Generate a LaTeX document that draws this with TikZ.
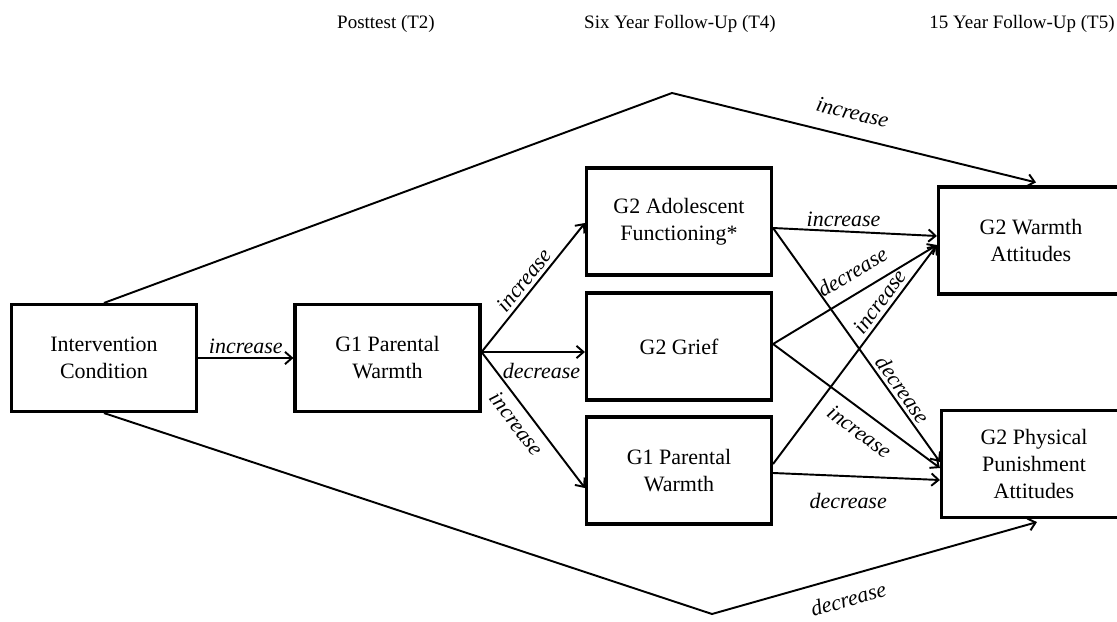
\documentclass[tikz,border=0pt]{standalone}
\usepackage{fontspec}
\setmainfont{Liberation Serif}
\usetikzlibrary{arrows.meta, calc}

\begin{document}
\begin{tikzpicture}[x=0.02cm, y=-0.02cm,
  box/.style={draw, line width=1.8pt, minimum width=3.7cm, minimum height=2.14cm,
    align=center, inner sep=2pt, font=\fontsize{12.5}{15.4}\selectfont},
  lnk/.style={line width=1.1pt, -{Straight Barb[length=4pt,width=7pt]}},
  lbl/.style={font=\fontsize{12.5}{15}\selectfont\itshape, inner sep=2pt},
  hdr/.style={font=\fontsize{10.8}{12}\selectfont}]
\useasboundingbox (0,0) rectangle (1117,622);
\clip (0,0) rectangle (1117,622);

\node[hdr] (t2) at (386,24) {Posttest (T2)};
\node[hdr] (t4) at (680,24) {Six Year Follow-Up (T4)};
\node[hdr] (t5) at (1022,24) {15 Year Follow-Up (T5)};

\node[box] (ic) at (104,358) {Intervention\\Condition};
\node[box] (gpw) at (387.5,358) {G1 Parental\\Warmth};
\node[box] (ado) at (679,221.5) {G2 Adolescent\\Functioning*};
\node[box] (grief) at (679,346.5) {G2 Grief};
\node[box] (gpwb) at (679,470.5) {G1 Parental\\Warmth};
\node[box] (wa) at (1031,240.5) {G2 Warmth\\Attitudes};
\node[box] (pp) at (1034,464) {G2 Physical\\Punishment\\Attitudes};

\coordinate (topbend) at (672,93);
\coordinate (botbend) at (712,614);
\coordinate (fork) at ($(gpw.east)+(0,-6)$);

\draw[lnk] (ic) -- node[lbl, above] {increase} (gpw);
\draw[lnk] (fork) -- node[lbl, above, sloped] {increase} ($(ado.west)+(0,1.5)$);
\draw[lnk] (fork) -- node[lbl, below=4pt, pos=0.58] {decrease} (fork -| grief.west);
\draw[lnk] (fork) -- node[lbl, below=2pt, sloped, pos=0.46] {increase} ($(gpwb.west)+(0,17.5)$);

\draw[lnk] ($(ado.east)+(0,6.5)$) -- node[lbl, above, pos=0.43] {increase} ($(wa.west)+(0,-4.5)$);
\draw[lnk] ($(ado.east)+(0,6.5)$) -- node[lbl, above, sloped, pos=0.72] {decrease} ($(pp.west)+(0,-2)$);
\draw[lnk] ($(grief.east)+(0,-2.5)$) -- node[lbl, above=5pt, sloped, pos=0.55] {decrease} ($(wa.west)+(0,4.5)$);
\draw[lnk] ($(grief.east)+(0,-2.5)$) -- node[lbl, below=4pt, sloped, pos=0.585] {increase} ($(pp.west)+(0,4)$);
\draw[lnk] ($(gpwb.east)+(0,-6.5)$) -- node[lbl, above, sloped, pos=0.71] {increase} ($(wa.west)+(0,4.5)$);
\draw[lnk] ($(gpwb.east)+(0,2.5)$) -- node[lbl, below=7pt, pos=0.45] {decrease} ($(pp.west)+(0,16)$);

\draw[lnk] (ic.north) -- (topbend) -- node[lbl, above=7pt, sloped, pos=0.48] {increase} ($(wa.north)+(5,-3)$);
\draw[lnk] (ic.south) -- (botbend) -- node[lbl, below=6pt, sloped, pos=0.4] {decrease} ($(pp.south)+(3,3)$);
\end{tikzpicture}
\end{document}
